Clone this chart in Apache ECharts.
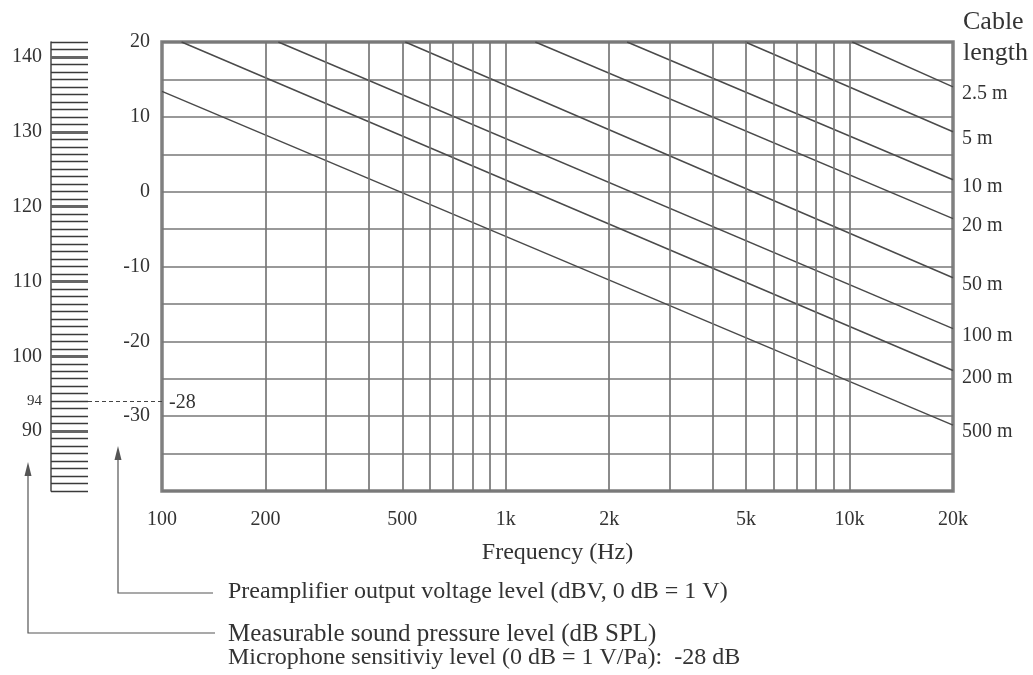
<!DOCTYPE html>
<html>
<head>
<meta charset="utf-8">
<style>html,body{margin:0;padding:0;background:#fff;}#chart{width:1033px;height:675px;}</style>
<script src="https://cdn.jsdelivr.net/npm/echarts@6/dist/echarts.min.js"></script>
</head>
<body>
<div id="chart"></div>
<script>
// ---- data ----
const cableLengths = ['2.5 m', '5 m', '10 m', '20 m', '50 m', '100 m', '200 m', '500 m'];
const startFreq = [10184, 4973, 2254, 1219, 510, 218, 114, 100];
const startLevel = [20, 20, 20, 20, 20, 20, 20, 13.4];
const endFreq = [20000, 20000, 20000, 20000, 20000, 20000, 20000, 20000];
const endLevel = [14.0, 8.0, 1.6, -3.6, -11.5, -18.3, -23.9, -31.2];

const freqTickValues = [100, 200, 500, 1000, 2000, 5000, 10000, 20000];
const freqTickLabels = ['100', '200', '500', '1k', '2k', '5k', '10k', '20k'];
const gridFreqs = [200, 300, 400, 500, 600, 700, 800, 900, 1000, 2000, 3000, 4000, 5000, 6000, 7000, 8000, 9000, 10000];
const levelTickValues = [20, 10, 0, -10, -20, -30];
const splTickLabels = [90, 94, 100, 110, 120, 130, 140];
const micSensitivity = -28;  // dBV at 94 dB SPL
const refSPL = 94;
const levelMin = -40, levelMax = 20;

// ---- derived ----
const splOffset = refSPL - micSensitivity; // 122
const splMin = levelMin + splOffset, splMax = levelMax + splOffset;
const FONT = 'Liberation Serif';
const TXT = '#333';
const GRID = '#777';

const ladder = [];
for (let v = splMin; v <= splMax; v++) {
  ladder.push([{ coord: [0, v] }, { coord: [1, v], lineStyle: { width: v % 10 === 0 ? 3.2 : 1.4, color: v % 10 === 0 ? '#666' : '#3a3a3a' } }]);
}
ladder.push([{ coord: [1, refSPL] }, {
  coord: [3, refSPL],
  lineStyle: { type: [4, 3], width: 1, color: '#444' },
  label: { show: true, position: 'end', distance: 7, formatter: String(micSensitivity), fontFamily: FONT, fontSize: 20, color: TXT, offset: [0, 2] }
}]);

const series = cableLengths.map((name, i) => ({
  name: name,
  type: 'line',
  xAxisIndex: 0, yAxisIndex: 0,
  data: [[startFreq[i], startLevel[i]], [endFreq[i], endLevel[i]]],
  showSymbol: false, symbol: 'none',
  lineStyle: { color: '#4a4a4a', width: 1.5 },
  silent: true,
  endLabel: { show: true, formatter: '{a}', fontFamily: FONT, fontSize: 20, color: TXT, distance: 9, offset: [0, 7] }
}));

series.push({
  type: 'line', xAxisIndex: 0, yAxisIndex: 0, data: [], silent: true,
  markLine: {
    silent: true, symbol: ['none', 'none'], animation: false,
    label: { show: false },
    lineStyle: { color: GRID, width: 1.7, type: 'solid' },
    data: gridFreqs.map(f => ({ xAxis: f }))
  }
});

series.push({
  type: 'line', xAxisIndex: 1, yAxisIndex: 1, data: [], silent: true,
  markLine: {
    silent: true, symbol: ['none', 'none'], animation: false,
    label: { show: false },
    lineStyle: { type: 'solid' },
    data: ladder
  }
});

const chart = echarts.init(document.getElementById('chart'), null, { renderer: 'canvas' });
chart.setOption({
  animation: false,
  backgroundColor: '#fff',
  textStyle: { fontFamily: FONT, color: TXT },
  grid: [
    { left: 162, top: 42, width: 791, height: 449, show: true, borderColor: '#808080', borderWidth: 3.5, backgroundColor: 'transparent' },
    { left: 51, top: 42, width: 111, height: 449, show: false }
  ],
  xAxis: [
    {
      type: 'log', logBase: 10, min: 100, max: 20000, gridIndex: 0,
      axisLine: { show: false }, axisTick: { show: false },
      splitLine: { show: false }, minorSplitLine: { show: false },
      axisLabel: {
        customValues: freqTickValues,
        formatter: v => freqTickLabels[freqTickValues.indexOf(Math.round(v))] || '',
        fontFamily: FONT, fontSize: 20, color: TXT, margin: 19
      },
      name: 'Frequency (Hz)', nameLocation: 'middle', nameGap: 50,
      nameTextStyle: { fontFamily: FONT, fontSize: 24, color: TXT }
    },
    {
      type: 'value', min: 0, max: 3, gridIndex: 1, show: false
    }
  ],
  yAxis: [
    {
      type: 'value', min: levelMin, max: levelMax, interval: 5, gridIndex: 0,
      axisLine: { show: false }, axisTick: { show: false },
      splitLine: { show: true, lineStyle: { color: GRID, width: 1.7 } },
      axisLabel: { customValues: levelTickValues, fontFamily: FONT, fontSize: 20, color: TXT, margin: 12 }
    },
    {
      type: 'value', min: splMin, max: splMax, gridIndex: 1, position: 'left',
      axisLine: { show: true, lineStyle: { color: '#555', width: 1.6 } },
      axisTick: { show: false },
      splitLine: { show: false },
      axisLabel: {
        customValues: splTickLabels, margin: 9, fontFamily: FONT, color: TXT,
        formatter: v => (v === refSPL ? '{s|' + v + '}' : '{n|' + v + '}'),
        rich: { s: { fontSize: 15, fontFamily: FONT, color: TXT }, n: { fontSize: 20, fontFamily: FONT, color: TXT } }
      }
    }
  ],
  series: series,
  graphic: [
    { type: 'text', left: 963, top: 7, silent: true,
      style: { text: 'Cable\nlength', font: '26px "Liberation Serif"', fill: TXT, lineHeight: 31 } },
    // arrow to SPL ladder
    { type: 'polyline', silent: true, shape: { points: [[215, 633], [28, 633], [28, 472]] }, style: { stroke: '#555', lineWidth: 1.2, fill: null } },
    { type: 'polygon', silent: true, shape: { points: [[28, 462], [24.5, 476], [31.5, 476]] }, style: { fill: '#555' } },
    // arrow to dBV axis
    { type: 'polyline', silent: true, shape: { points: [[213, 593], [118, 593], [118, 456]] }, style: { stroke: '#555', lineWidth: 1.2, fill: null } },
    { type: 'polygon', silent: true, shape: { points: [[118, 446], [114.5, 460], [121.5, 460]] }, style: { fill: '#555' } },
    { type: 'text', silent: true, x: 228, y: 592,
      style: { text: 'Preamplifier output voltage level (dBV, 0 dB = 1 V)', font: '24px "Liberation Serif"', fill: TXT, verticalAlign: 'middle' } },
    { type: 'text', silent: true, x: 228, y: 634,
      style: { text: 'Measurable sound pressure level (dB SPL)', font: '25px "Liberation Serif"', fill: TXT, verticalAlign: 'middle' } },
    { type: 'text', silent: true, x: 228, y: 658,
      style: { text: 'Microphone sensitiviy level (0 dB = 1 V/Pa):  -28 dB', font: '24px "Liberation Serif"', fill: TXT, verticalAlign: 'middle' } }
  ]
});
</script>
</body>
</html>
